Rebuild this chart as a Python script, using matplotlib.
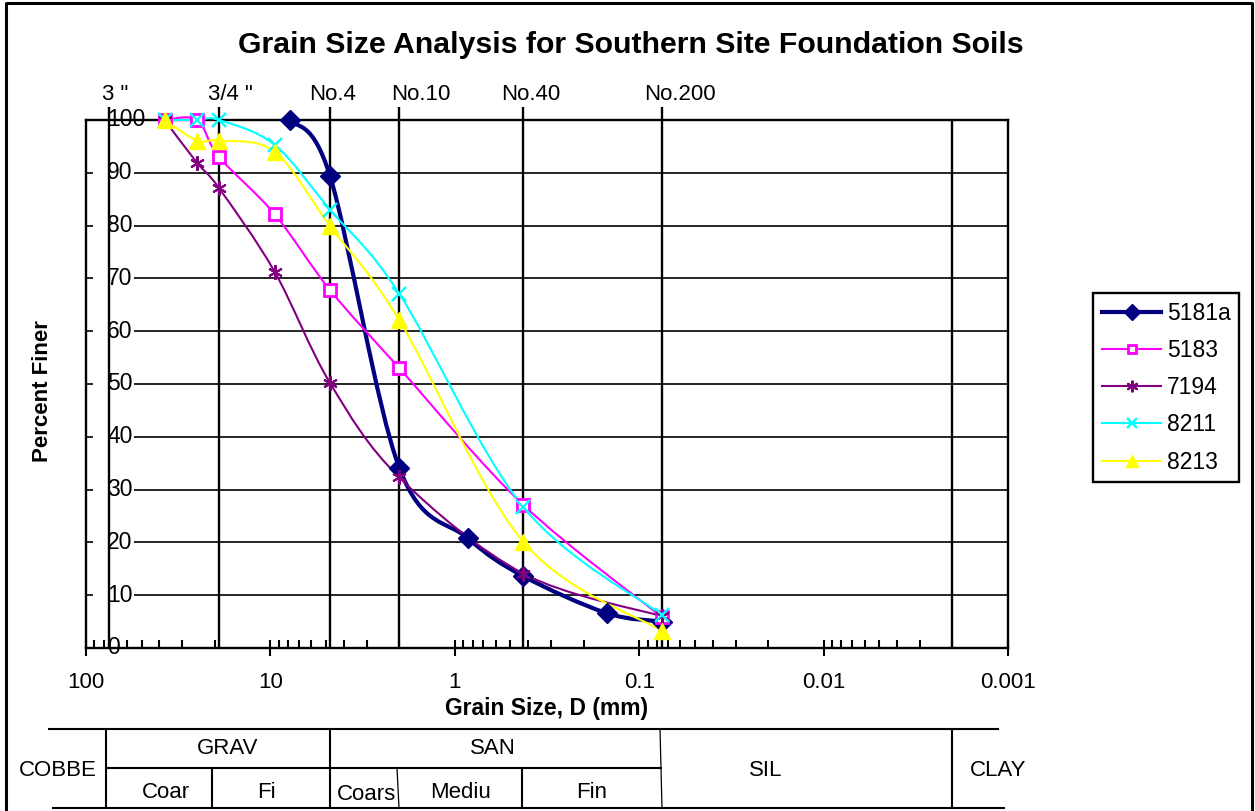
import numpy as np
import matplotlib
matplotlib.use("Agg")
import matplotlib.pyplot as plt
from matplotlib.path import Path
from matplotlib.patches import PathPatch, Rectangle
from matplotlib.lines import Line2D
import matplotlib.transforms as mtransforms

plt.rcParams['font.family'] = ['Liberation Sans', 'DejaVu Sans']

# ---- sieve analysis results (grain size in mm, percent finer) ----
series_names = ["5181a", "5183", "7194", "8211", "8213"]
size_5181a = [7.8, 4.75, 2.0, 0.85, 0.425, 0.15, 0.075]
pct_5181a = [100, 89.4, 34.1, 20.8, 13.6, 6.6, 5.0]
size_std = [37.5, 25, 19, 9.5, 4.75, 2.0, 0.425, 0.075]
pct_5183 = [100, 100, 93.0, 82.2, 67.8, 53.0, 27.1, 5.8]
pct_7194 = [100, 91.9, 87.1, 71.3, 50.2, 32.3, 14.1, 6.0]
pct_8211 = [100, 100, 100, 95.3, 83.0, 67.1, 26.7, 6.2]
pct_8213 = [100, 96.1, 96.1, 94.0, 79.9, 62.1, 20.1, 3.2]

# sieve designations and their openings (mm)
sieve_labels = ['3 "', '3/4 "', 'No.4', 'No.10', 'No.40', 'No.200']
sieve_mm = [75, 19, 4.75, 2.0, 0.425, 0.075]
sieve_label_mm = [69.6, 16.4, 4.63, 1.52, 0.386, 0.0601]
clay_limit_mm = 0.002

x_ticks = [100, 10, 1, 0.1, 0.01, 0.001]
x_tick_labels = ["100", "10", "1", "0.1", "0.01", "0.001"]
y_ticks = list(range(0, 101, 10))

colors = ["#000080", "#FF00FF", "#800080", "#00FFFF", "#FFFF00"]


def smooth_path(xs, ys):
    """Bezier path through the points (Catmull-Rom tangents in log-x space)."""
    u = np.log10(np.asarray(xs, float))
    v = np.asarray(ys, float)
    n = len(u)
    verts = [(u[0], v[0])]
    codes = [Path.MOVETO]
    for i in range(n - 1):
        i0 = max(i - 1, 0)
        i3 = min(i + 2, n - 1)
        c1 = (u[i] + (u[i + 1] - u[i0]) / 6, v[i] + (v[i + 1] - v[i0]) / 6)
        c2 = (u[i + 1] - (u[i3] - u[i]) / 6, v[i + 1] - (v[i3] - v[i]) / 6)
        verts += [c1, c2, (u[i + 1], v[i + 1])]
        codes += [Path.CURVE4] * 3
    verts = np.array(verts)
    verts[:, 0] = 10 ** verts[:, 0]
    return Path(verts, codes)


W, H = 1255, 811
fig = plt.figure(figsize=(W / 100, H / 100), dpi=100)

# ---- overlay in pixel units for the frame and soil classification table ----
ov = fig.add_axes([0, 0, 1, 1])
ov.set_xlim(0, W)
ov.set_ylim(H, 0)
ov.axis('off')

ov.plot([6, 6], [2, H], color='k', lw=2.2, solid_capstyle='butt')
ov.plot([6, 1252], [3, 3], color='k', lw=2.2, solid_capstyle='butt')
ov.plot([1252, 1252], [2, H], color='k', lw=2.2, solid_capstyle='butt')

tlw = 1.5
ov.plot([49, 998], [729, 729], color='k', lw=tlw)
ov.plot([106, 661], [768, 768], color='k', lw=tlw)
ov.plot([53, 1004], [808, 808], color='k', lw=tlw)
for xv, y0 in [(106, 729), (212, 768), (330, 729), (522, 768), (952, 729)]:
    ov.plot([xv, xv], [y0, 808], color='k', lw=tlw)
ov.plot([397, 399], [768, 808], color='k', lw=0.9)
ov.plot([660, 662], [729, 808], color='k', lw=0.9)

table_text = [("COBBE", 58, 771), ("GRAV", 228, 748), ("SAN", 493, 748),
              ("Coar", 166, 793), ("Fi", 266, 793), ("Coars", 366, 794),
              ("Mediu", 461, 793), ("Fin", 592, 793), ("SIL", 766, 771),
              ("CLAY", 998, 771)]
for txt, tx, ty in table_text:
    ov.text(tx, ty, txt, ha='center', va='center', fontsize=16)

# ---- main grain size chart ----
ax = fig.add_axes([86 / W, 1 - 648 / H, 922 / W, 528 / H])
ax.set_xscale('log')
ax.set_xlim(100, 0.001)
ax.set_ylim(0, 100)
ax.patch.set_alpha(0)

for s in ax.spines.values():
    s.set_linewidth(1.7)
    s.set_zorder(2.5)

ax.xaxis.set_major_locator(matplotlib.ticker.FixedLocator(x_ticks))
ax.set_xticklabels(x_tick_labels)
ax.xaxis.set_minor_locator(matplotlib.ticker.LogLocator(base=10, subs=np.arange(2, 10)))
ax.xaxis.set_minor_formatter(matplotlib.ticker.NullFormatter())
ax.tick_params(axis='x', which='major', direction='inout', length=12, width=1.5,
               labelsize=16, pad=11.5)
ax.tick_params(axis='x', which='minor', direction='in', length=6, width=1.5)
ax.set_yticks(y_ticks)
ax.tick_params(axis='y', length=0, labelleft=False)

for yv in y_ticks:
    ax.axhline(yv, color='k', lw=1.2, zorder=1)

# percent labels sit inside the plot with a white backing
blend = mtransforms.blended_transform_factory(ax.transAxes, ax.transData)
lab_x = (107 - 86) / 922
for yv in y_ticks:
    ax.text(lab_x, yv, str(yv), transform=blend, ha='left', va='center',
            fontsize=16.5, zorder=2,
            bbox=dict(boxstyle='square,pad=0.06', fc='white', ec='none'))
    if 0 < yv < 100:
        ax.add_patch(Rectangle(((93 - 86) / 922, yv - 1.6), (108 - 93) / 922, 3.2,
                               transform=blend, fc='white', ec='none', zorder=2))

# sieve lines and clay boundary
ax.vlines(sieve_mm, 0, 102.5, colors='k', lw=1.7, zorder=3, clip_on=False)
ax.vlines([clay_limit_mm], 0, 100, colors='k', lw=1.7, zorder=3)
for lab, xm in zip(sieve_labels, sieve_label_mm):
    ax.text(xm, 103.8, lab, ha='center', va='baseline', fontsize=16, clip_on=False)

# ---- data series ----
series = [
    (size_5181a, pct_5181a, dict(marker='D', ms=10, mfc=colors[0], mec=colors[0], mew=1), 3.0),
    (size_std, pct_5183, dict(marker='s', ms=8, mfc='white', mec=colors[1], mew=2), 1.5),
    (size_std, pct_7194, dict(marker=(6, 2, 0), ms=10.5, mfc='none', mec=colors[2], mew=1.5), 1.5),
    (size_std, pct_8211, dict(marker='x', ms=9.5, mfc='none', mec=colors[3], mew=1.7), 1.5),
    (size_std, pct_8213, dict(marker='^', ms=11, mfc=colors[4], mec=colors[4], mew=1), 1.5),
]

for (xs, ys, mk, lw), col in zip(series, colors):
    ax.add_patch(PathPatch(smooth_path(xs, ys), fill=False, ec=col, lw=lw,
                           zorder=5, clip_on=False, capstyle='round', joinstyle='round'))
for (xs, ys, mk, lw), col in zip(series, colors):
    ax.plot(xs, ys, ls='none', zorder=6, clip_on=False, **mk)

handles = [Line2D([], [], color=col, lw=lw, **mk)
           for (xs, ys, mk, lw), col in zip(series, colors)]
leg = fig.legend(handles, series_names, loc='upper left',
                 bbox_to_anchor=(1093 / W, 1 - 293 / H), bbox_transform=fig.transFigure,
                 borderaxespad=0, fontsize=16.5, frameon=True, fancybox=False,
                 edgecolor='black', framealpha=1, handlelength=2.6, handletextpad=0.25,
                 labelspacing=0.62, borderpad=0.38, markerscale=0.8)
leg.get_frame().set_linewidth(1.7)

fig.text(631 / W, 1 - 45 / H, "Grain Size Analysis for Southern Site Foundation Soils",
         ha='center', va='center', fontsize=21.8, fontweight='bold')
fig.text(42 / W, 1 - 391 / H, "Percent Finer", rotation=90, ha='center', va='center',
         fontsize=16, fontweight='bold')
fig.text(547 / W, 1 - 708 / H, "Grain Size, D (mm)", ha='center', va='center',
         fontsize=16.5, fontweight='bold')

fig.savefig("out.png", dpi=100)
